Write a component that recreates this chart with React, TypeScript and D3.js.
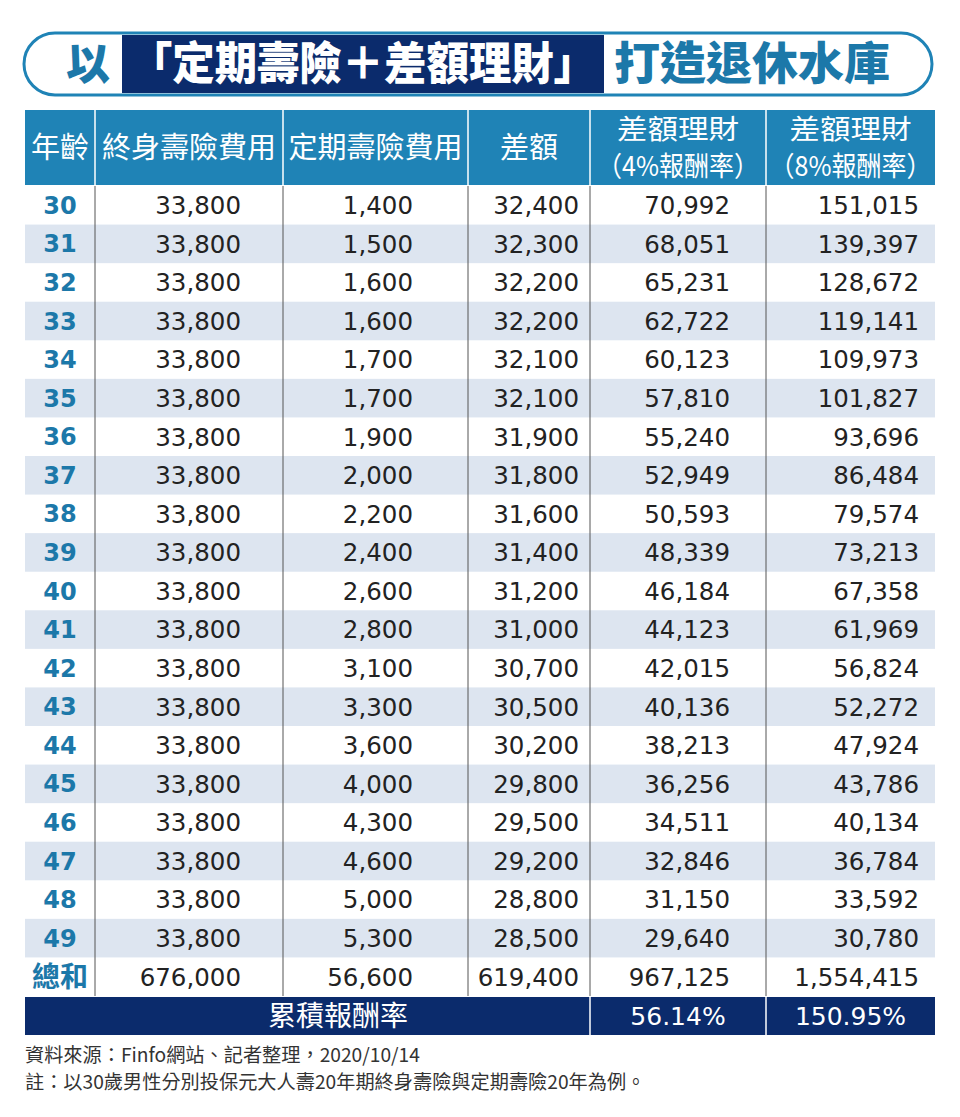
import React from 'react';
import * as d3 from 'd3';

const ages = ['30', '31', '32', '33', '34', '35', '36', '37', '38', '39', '40', '41', '42', '43', '44', '45', '46', '47', '48', '49'];
const wholeLife = [33800, 33800, 33800, 33800, 33800, 33800, 33800, 33800, 33800, 33800, 33800, 33800, 33800, 33800, 33800, 33800, 33800, 33800, 33800, 33800];
const termLife = [1400, 1500, 1600, 1600, 1700, 1700, 1900, 2000, 2200, 2400, 2600, 2800, 3100, 3300, 3600, 4000, 4300, 4600, 5000, 5300];
const diff = [32400, 32300, 32200, 32200, 32100, 32100, 31900, 31800, 31600, 31400, 31200, 31000, 30700, 30500, 30200, 29800, 29500, 29200, 28800, 28500];
const invest4 = [70992, 68051, 65231, 62722, 60123, 57810, 55240, 52949, 50593, 48339, 46184, 44123, 42015, 40136, 38213, 36256, 34511, 32846, 31150, 29640];
const invest8 = [151015, 139397, 128672, 119141, 109973, 101827, 93696, 86484, 79574, 73213, 67358, 61969, 56824, 52272, 47924, 43786, 40134, 36784, 33592, 30780];
const totalLabel = '總和';
const totals = [676000, 56600, 619400, 967125, 1554415];
const headers = [['年齡'], ['終身壽險費用'], ['定期壽險費用'], ['差額'], ['差額理財', '（4%報酬率）'], ['差額理財', '（8%報酬率）']];
const cumLabel = '累積報酬率';
const cumRates = ['56.14%', '150.95%'];
const notes = ['資料來源：Finfo網站、記者整理，2020/10/14', '註：以30歲男性分別投保元大人壽20年期終身壽險與定期壽險20年為例。'];

const NAVY = '#0b2b6c';
const BLUE = '#1f83b6';
const TEAL = '#1c78a9';
const STRIPE = '#dde5f0';
const CJK = '"Noto Sans CJK TC", "Noto Sans", sans-serif';
const NUM = '"DejaVu Sans", "Noto Sans", sans-serif';

// column edges and right-edge anchors for numbers
const edges = [25, 95, 283, 468, 590, 766, 935];
const numRight = [241, 413, 579, 730, 919];

const fmt = d3.format(',');

export default function App() {
  const width = 960;
  const height = 1117;
  const rowKeys = [...ages, totalLabel];
  const y = d3.scaleBand<string>().domain(rowKeys).range([186, 996]);
  const cols = [wholeLife, termLife, diff, invest4, invest8];
  const left = edges[0];
  const right = edges[edges.length - 1];

  return (
    <svg width={width} height={height} style={{ display: 'block', position: 'absolute', left: 0, top: 0, background: '#fff' }}>
      {/* title pill */}
      <rect x={24} y={33} width={908} height={62} rx={31} fill="#fff" stroke={BLUE} strokeWidth={3} />
      <rect x={122} y={35} width={482} height={58} fill={NAVY} />
      <text x={88} y={64} dy="0.36em" textAnchor="middle" fill={TEAL} fontFamily={CJK} fontWeight={900} fontSize={44}>以</text>
      <text x={363} y={64} dy="0.36em" textAnchor="middle" fill="#fff" fontFamily={CJK} fontWeight={900} fontSize={45} textLength={466} lengthAdjust="spacingAndGlyphs">「定期壽險＋差額理財」</text>
      <text x={752} y={64} dy="0.36em" textAnchor="middle" fill={TEAL} fontFamily={CJK} fontWeight={900} fontSize={45} textLength={276} lengthAdjust="spacingAndGlyphs">打造退休水庫</text>

      {/* header */}
      <rect x={left} y={110} width={right - left} height={75} fill={BLUE} />
      {headers.map((h, i) => {
        const cx = (edges[i] + edges[i + 1]) / 2;
        return (
          <g key={i}>
            {i > 0 && <line x1={edges[i]} x2={edges[i]} y1={110} y2={185} stroke="#fff" strokeWidth={1.5} />}
            {h.length === 1 ? (
              <text x={cx} y={148} dy="0.36em" textAnchor="middle" fill="#fff" fontFamily={CJK} fontSize={29}>{h[0]}</text>
            ) : (
              h.map((t, j) => (
                <text key={j} x={cx} y={129 + j * 37} dy="0.36em" textAnchor="middle" fill="#fff" fontFamily={CJK} fontSize={27.5}
                  textLength={j === 0 ? 122 : 162} lengthAdjust="spacingAndGlyphs">{t}</text>
              ))
            )}
          </g>
        );
      })}

      {/* body rows */}
      {rowKeys.map((k, r) => {
        const y0 = y(k)!;
        const cy = y0 + y.bandwidth() / 2;
        const isTotal = r === ages.length;
        return (
          <g key={k}>
            {r % 2 === 1 && <rect x={left} y={y0} width={right - left} height={y.bandwidth()} fill={STRIPE} />}
            <text x={(edges[0] + edges[1]) / 2} y={cy} dy="0.36em" textAnchor="middle" fill={TEAL} fontFamily={isTotal ? CJK : NUM} fontWeight={700} fontSize={isTotal ? 28 : 24}>{k}</text>
            {cols.map((c, ci) => (
              <text key={ci} x={numRight[ci]} y={cy} dy="0.36em" textAnchor="end" fill="#222" fontFamily={NUM} fontSize={24.5}>
                {fmt(isTotal ? totals[ci] : c[r])}
              </text>
            ))}
          </g>
        );
      })}
      {edges.slice(1, -1).map((e) => (
        <line key={e} x1={e} x2={e} y1={186} y2={996} stroke="#555" strokeWidth={1} />
      ))}

      {/* cumulative return row */}
      <rect x={left} y={997} width={right - left} height={38} fill={NAVY} />
      <line x1={edges[4]} x2={edges[4]} y1={997} y2={1035} stroke="#fff" strokeWidth={1.5} />
      <line x1={edges[5]} x2={edges[5]} y1={997} y2={1035} stroke="#fff" strokeWidth={1.5} />
      <text x={338} y={1016} dy="0.36em" textAnchor="middle" fill="#fff" fontFamily={CJK} fontSize={28}>{cumLabel}</text>
      {cumRates.map((t, i) => (
        <text key={t} x={(edges[4 + i] + edges[5 + i]) / 2} y={1016} dy="0.36em" textAnchor="middle" fill="#fff" fontFamily={NUM} fontSize={25}>{t}</text>
      ))}

      {/* notes */}
      {notes.map((t, i) => (
        <text key={i} x={25} y={1055 + i * 27} dy="0.36em" fill="#333" fontFamily={CJK} fontSize={19.2}>{t}</text>
      ))}
    </svg>
  );
}
